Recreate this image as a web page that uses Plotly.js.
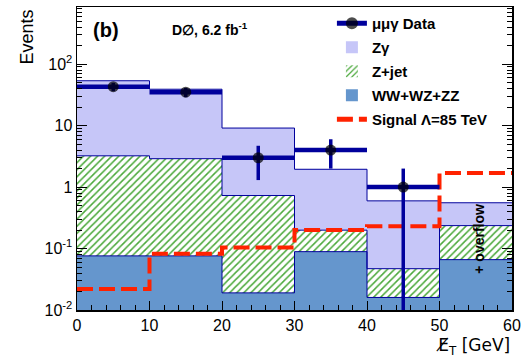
<!DOCTYPE html>
<html>
<head>
<meta charset="utf-8">
<script src="https://cdn.plot.ly/plotly-3.0.1.min.js"></script>
<style>html,body{margin:0;padding:0;background:#fff;}</style>
</head>
<body>
<div id="chart" style="width:521px;height:362px;"></div>
<script>
// ---- data ----
const binEdges   = [0, 10, 20, 30, 40, 50, 60];
const binCenters = [5, 15, 25, 35, 45, 55];
const dibosonVals = [0.076, 0.076, 0.019, 0.089, 0.016, 0.066];   // WW+WZ+ZZ
const zjetVals    = [3.15, 2.82, 0.71, 0.11, 0.031, 0.17];          // Z+jet
const zgammaVals  = [50.5, 36.2, 8.4, 1.75, 0.55, 0.32];            // Zgamma
const signalVals  = [0.022, 0.082, 0.104, 0.2, 0.23, 1.7];          // Signal Lambda=85 TeV
const dataX       = [5, 15, 25, 35, 45];
const dataY       = [43, 35, 3, 4, 1];
const dataErrUp   = [6.6, 5.9, 1.7, 2, 1];
const dataErrDown = [6.6, 5.9, 1.7, 2, 0.99];
const yTickVals = [0.01, 0.1, 1, 10, 100];
const yTickText = ['10<sup>-2</sup>', '10<sup>-1</sup>', '1', '10', '10<sup>2</sup>'];
const xTickVals = [0, 10, 20, 30, 40, 50, 60];

// ---- derived ----
const navy = '#00009c';
const halfW = 5;
function stackTop(arrs){ return arrs[0].map((_, i) => arrs.reduce((s, a) => s + a[i], 0)); }
const top1 = stackTop([dibosonVals]);
const top2 = stackTop([dibosonVals, zjetVals]);
const top3 = stackTop([dibosonVals, zjetVals, zgammaVals]);
function stairY(v){ return v.concat([v[v.length - 1]]); }
const minorY = [];
[0.01, 0.1, 1, 10, 100].forEach(d => { for (let k = 2; k <= 9; k++) { const v = d * k; if (Math.log10(v) < 2.93) minorY.push(v); } });

// data segments: centre, low edge, high edge, gap
const segX = [], segY = [], segS = [], segEU = [], segED = [];
dataX.forEach((c, i) => {
  segX.push(c, c - halfW, c + halfW, null);
  segY.push(dataY[i], dataY[i], dataY[i], null);
  segS.push(11, 0, 0, 0);
  segEU.push(dataErrUp[i], 0, 0, 0);
  segED.push(dataErrDown[i], 0, 0, 0);
});

const traces = [
  { type: 'bar', x: binCenters, y: dibosonVals, width: 10, name: 'WW+WZ+ZZ',
    marker: { color: '#6596cd', line: { width: 0 } }, legendrank: 4, legendgroup: 'd', hoverinfo: 'skip' },
  { type: 'bar', x: binCenters, y: zjetVals, width: 10, name: 'Z+jet',
    marker: { color: 'white', line: { width: 0 },
      pattern: { shape: '/', fgcolor: '#4aa83a', bgcolor: 'white', size: 5, solidity: 0.3, fillmode: 'replace' } },
    legendrank: 3, legendgroup: 'c', hoverinfo: 'skip' },
  { type: 'bar', x: binCenters, y: zgammaVals, width: 10, name: 'Z\u03b3',
    marker: { color: '#c6c6f8', line: { width: 0 } }, legendrank: 2, legendgroup: 'b', hoverinfo: 'skip' },
  { type: 'scatter', mode: 'lines', x: binEdges, y: stairY(top1), line: { shape: 'hv', color: navy, width: 1 }, showlegend: false, hoverinfo: 'skip' },
  { type: 'scatter', mode: 'lines', x: binEdges, y: stairY(top2), line: { shape: 'hv', color: navy, width: 1 }, showlegend: false, hoverinfo: 'skip' },
  { type: 'scatter', mode: 'lines', x: binEdges, y: stairY(top3), line: { shape: 'hv', color: navy, width: 1 }, showlegend: false, hoverinfo: 'skip' },
  { type: 'scatter', mode: 'lines', x: binEdges, y: stairY(signalVals), name: 'Signal \u039b=85 TeV',
    line: { shape: 'hv', color: '#ff2200', width: 4, dash: '16px,6px' }, legendrank: 5, legendgroup: 'e', hoverinfo: 'skip' },
  { type: 'scatter', mode: 'lines+markers', x: segX, y: segY, name: '\u03bc\u03bc\u03b3 Data',
    connectgaps: false,
    line: { color: navy, width: 4.5 },
    marker: { color: 'black', size: segS, line: { width: 0 } },
    error_y: { type: 'data', symmetric: false, array: segEU, arrayminus: segED, color: navy, thickness: 3.5, width: 0 },
    legendrank: 1, legendgroup: 'a', hoverinfo: 'skip' }
];

const layout = {
  width: 521, height: 362,
  margin: { l: 77, r: 9, t: 7, b: 52 },
  paper_bgcolor: 'white', plot_bgcolor: 'white',
  barmode: 'stack', bargap: 0,
  font: { family: 'Liberation Sans, Arial, sans-serif', size: 16, color: 'black' },
  showlegend: true,
  legend: { x: 0.586, y: 1.0, xanchor: 'left', yanchor: 'top', bgcolor: 'rgba(0,0,0,0)',
    font: { size: 15, weight: 700 }, traceorder: 'grouped', tracegroupgap: 1.5, itemsizing: 'constant' },
  xaxis: { range: [0, 60], showline: true, linecolor: 'black', linewidth: 1.5, mirror: true,
    ticks: 'inside', ticklen: 9, tickwidth: 1, tickcolor: 'black', tickvals: xTickVals,
    minor: { dtick: 2, tick0: 0, ticks: 'inside', ticklen: 5, tickcolor: 'black' },
    showgrid: false, zeroline: false, tickfont: { size: 16 } },
  yaxis: { type: 'log', range: [-2, 2.93], showline: true, linecolor: 'black', linewidth: 1.5, mirror: 'ticks',
    ticks: 'inside', ticklen: 10, tickwidth: 1, tickcolor: 'black', tickvals: yTickVals, ticktext: yTickText,
    minor: { tickmode: 'array', tickvals: minorY, ticks: 'inside', ticklen: 5, tickcolor: 'black' },
    showgrid: false, zeroline: false, tickfont: { size: 16 } },
  annotations: [
    { xref: 'paper', yref: 'paper', x: 0.033, y: 0.924, xanchor: 'left', yanchor: 'middle', showarrow: false,
      text: '(b)', font: { size: 20, weight: 700 } },
    { xref: 'paper', yref: 'paper', x: 0.213, y: 0.926, xanchor: 'left', yanchor: 'middle', showarrow: false,
      text: 'D\u2205, 6.2 fb<sup>-1</sup>', font: { size: 14, weight: 700 } },
    { xref: 'paper', yref: 'paper', x: -0.115, y: 1.0, xanchor: 'center', yanchor: 'top', showarrow: false,
      textangle: -90, text: 'Events', font: { size: 18 } },
    { xref: 'paper', yref: 'paper', x: 1.0, y: -0.122, xanchor: 'right', yanchor: 'middle', showarrow: false,
      text: 'E\u0338<sub>T</sub> [GeV]', font: { size: 17, family: 'DejaVu Sans, sans-serif' } },
    { xref: 'paper', yref: 'paper', x: 0.924, y: 0.235, xanchor: 'center', yanchor: 'middle', showarrow: false,
      textangle: -90, text: '+ overflow', font: { size: 14, weight: 700 } }
  ]
};

Plotly.newPlot('chart', traces, layout, { staticPlot: true, displayModeBar: false });
</script>
</body>
</html>
